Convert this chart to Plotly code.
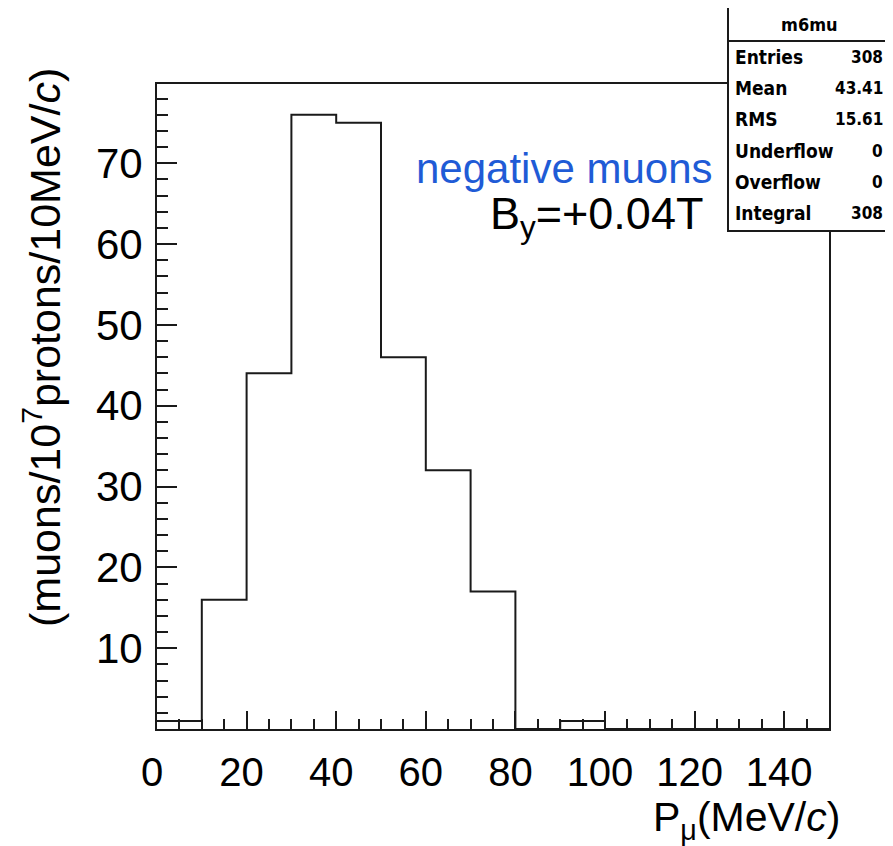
import plotly.graph_objects as go

# ---- data ----
bin_edges = [0, 10, 20, 30, 40, 50, 60, 70, 80, 90, 100, 110, 120, 130, 140, 150]
counts = [1, 16, 44, 76, 75, 46, 32, 17, 0, 1, 0, 0, 0, 0, 0]
x_tick_vals = [0, 20, 40, 60, 80, 100, 120, 140]
y_tick_vals = [10, 20, 30, 40, 50, 60, 70]
hist_name = "m6mu"
stat_labels = ["Entries", "Mean", "RMS", "Underflow", "Overflow", "Integral"]
stat_values = ["308", "43.41", "15.61", "0", "0", "308"]

# page body has an 8px margin: figure starts at (8, 8) in the window
OFF = 8
W, H = 893 - OFF, 846 - OFF
L, R, T, B = 157 - OFF, 64, 84 - OFF, 117
PW, PH = W - L - R, H - T - B


def px(xpix):  # window pixel -> paper x
    return (xpix - (L + OFF)) / PW


def py(ypix):  # window pixel -> paper y
    return (H + OFF - B - ypix) / PH


FONT = "Liberation Sans, Arial, Helvetica, sans-serif"
NARROW = "DejaVu Sans Condensed, Liberation Sans Narrow, Arial Narrow, sans-serif"

fig = go.Figure()
fig.add_trace(go.Scatter(
    x=bin_edges,
    y=counts + [counts[-1]],
    mode="lines",
    line=dict(shape="hv", color="#1a1a1a", width=2),
    hoverinfo="skip",
    showlegend=False,
))

fig.update_layout(
    width=W, height=H,
    margin=dict(l=L, r=R, t=T, b=B),
    paper_bgcolor="white", plot_bgcolor="white",
    showlegend=False,
)

fig.update_xaxes(
    range=[0, 150], tickmode="array", tickvals=x_tick_vals,
    ticks="inside", ticklen=18, tickwidth=2, tickcolor="#1a1a1a",
    minor=dict(tickmode="linear", tick0=0, dtick=5, ticks="inside",
               ticklen=10, tickwidth=2, tickcolor="#1a1a1a"),
    showline=True, linecolor="#1a1a1a", linewidth=2, mirror=True,
    showgrid=False, zeroline=False,
    tickfont=dict(family=FONT, size=40, color="black"),
    ticklabelstandoff=7, ticklabelshift=-5,
)
fig.update_yaxes(
    range=[0, 79.8], tickmode="array", tickvals=y_tick_vals,
    ticks="inside", ticklen=20, tickwidth=2, tickcolor="#1a1a1a",
    minor=dict(tickmode="linear", tick0=0, dtick=2, ticks="inside",
               ticklen=11, tickwidth=2, tickcolor="#1a1a1a"),
    showline=True, linecolor="#1a1a1a", linewidth=2, mirror=True,
    showgrid=False, zeroline=False,
    tickfont=dict(family=FONT, size=42, color="black"),
    ticklabelstandoff=4,
)

ann = []
# y-axis title
ann.append(dict(
    text="(muons/10<sup>7</sup>protons/10MeV/<i>c</i>)",
    xref="paper", yref="paper", x=px(42), y=py(348),
    xanchor="center", yanchor="middle", textangle=-90, showarrow=False,
    font=dict(family=FONT, size=43, color="black"),
))
# x-axis title
ann.append(dict(
    text="P<sub>μ</sub>(MeV/<i>c</i>)",
    xref="paper", yref="paper", x=px(842), y=py(820),
    xanchor="right", yanchor="middle", showarrow=False,
    font=dict(family=FONT, size=41, color="black"),
))
# labels
ann.append(dict(
    text="negative muons",
    xref="paper", yref="paper", x=px(715), y=py(168),
    xanchor="right", yanchor="middle", showarrow=False,
    font=dict(family=FONT, size=42, color="#1F5BD6"),
))
ann.append(dict(
    text="B<sub>y</sub>=+0.04T",
    xref="paper", yref="paper", x=px(705), y=py(216),
    xanchor="right", yanchor="middle", showarrow=False,
    font=dict(family=FONT, size=45, color="black"),
))

# stats box
bx0, bx1, by0, by1, bsep = 728, 891, 7, 231, 41
shapes = [
    dict(type="rect", xref="paper", yref="paper",
         x0=px(bx0), x1=px(bx1), y0=py(by1), y1=py(by0),
         line=dict(color="#1a1a1a", width=2), fillcolor="white", layer="above"),
    dict(type="line", xref="paper", yref="paper",
         x0=px(bx0), x1=px(bx1), y0=py(bsep), y1=py(bsep),
         line=dict(color="#1a1a1a", width=2), layer="above"),
]
ann.append(dict(
    text="<b>" + hist_name + "</b>", xref="paper", yref="paper",
    x=px((bx0 + bx1) / 2), y=py(24.5), xanchor="center", yanchor="middle",
    showarrow=False, font=dict(family=NARROW, size=18, color="black"),
))
row0, rowstep = 56.7, 31.3
for i, (lab, val) in enumerate(zip(stat_labels, stat_values)):
    yy = py(row0 + i * rowstep)
    ann.append(dict(text="<b>" + lab + "</b>", xref="paper", yref="paper", x=px(733), y=yy,
                    xanchor="left", yanchor="middle", showarrow=False,
                    font=dict(family=NARROW, size=19, color="black")))
    ann.append(dict(text="<b>" + val + "</b>", xref="paper", yref="paper", x=px(885), y=yy,
                    xanchor="right", yanchor="middle", showarrow=False,
                    font=dict(family=NARROW, size=17, color="black")))

fig.update_layout(annotations=ann, shapes=shapes)
fig.write_html("out.html")
